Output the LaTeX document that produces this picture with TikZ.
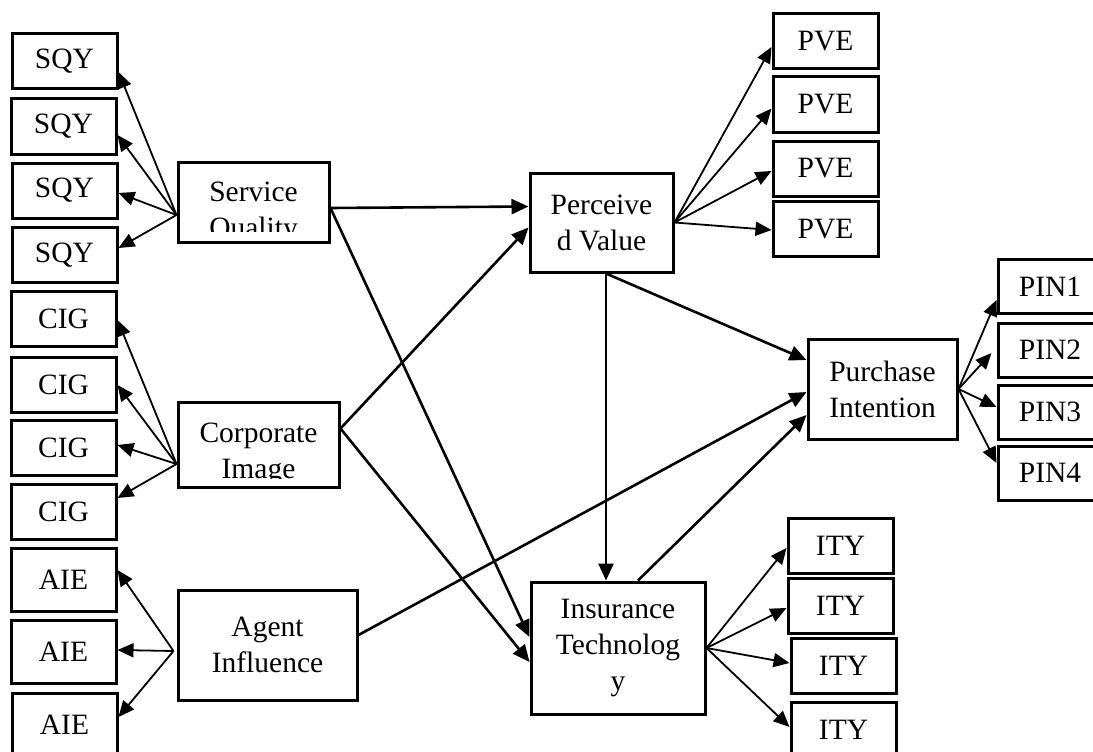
\documentclass[tikz,border=0pt]{standalone}
\usepackage{fontspec}
\setmainfont{Liberation Serif}
\usetikzlibrary{arrows.meta,calc}

\begin{document}
\begin{tikzpicture}[
    x=1pt, y=-1pt,
    indicator/.style={rectangle, draw=black, line width=3pt, minimum width=105pt, minimum height=55pt, inner sep=0pt, font=\fontsize{29.5}{36}\selectfont},
    construct/.style={rectangle, draw=black, line width=3pt, inner sep=0pt, align=center, font=\fontsize{29.5}{36}\selectfont},
    arrow/.style={-{Triangle[length=17pt,width=15pt]}, line width=2.6pt},
    fan/.style={-{Triangle[length=16pt,width=14pt]}, line width=1.8pt}
]
\useasboundingbox (0,0) rectangle (1093,752);

% indicators on the left
\node[indicator] (q1) at (64.5,61.5) {SQY};
\node[indicator] (q2) at (63.5,126.5) {SQY};
\node[indicator] (q3) at (64.5,190.5) {SQY};
\node[indicator] (q4) at (64.5,255) {SQY};
\node[indicator] (c1) at (63.5,318.5) {CIG};
\node[indicator] (c2) at (63.5,384.5) {CIG};
\node[indicator] (c3) at (63.5,447.5) {CIG};
\node[indicator] (c4) at (63.5,511.5) {CIG};
\node[indicator, minimum height=63pt] (a1) at (63.5,580) {AIE};
\node[indicator, minimum height=63pt] (a2) at (63.5,651.5) {AIE};
\node[indicator, minimum height=63pt] (a3) at (64.5,724.5) {AIE};

% constructs
\node[construct, minimum width=151pt, minimum height=80pt] (sq) at (253.5,202) {};
\begin{scope}
  \clip (sq.north west) rectangle ($(sq.south east)+(0,-12)$);
  \node[construct, draw=none, anchor=north] (sqtext) at ($(sq.north)+(0,20)$) {Service\\Quality};
\end{scope}
\node[construct, minimum width=161pt, minimum height=85pt] (ci) at (258.5,444.5) {};
\begin{scope}
  \clip (ci.north west) rectangle ($(ci.south east)+(0,-10)$);
  \node[construct, draw=none, anchor=north] (citext) at ($(ci.north)+(0,21)$) {Corporate\\Image};
\end{scope}
\node[construct, minimum width=179pt, minimum height=110pt] (ai) at (267.5,645) {Agent\\Influence};
\node[construct, minimum width=143pt, minimum height=99pt] (pv) at (601.5,222.5) {Perceive\\d Value};
\node[construct, minimum width=149pt, minimum height=100pt] (pi) at (882.5,389) {Purchase\\Intention};
\node[construct, minimum width=174pt, minimum height=132pt] (it) at (618,648) {Insurance\\Technolog\\y};

% indicators on the right
\node[indicator] (v1) at (825.5,41) {PVE};
\node[indicator] (v2) at (825.5,104.5) {PVE};
\node[indicator] (v3) at (825.5,168.5) {PVE};
\node[indicator] (v4) at (825.5,229) {PVE};
\node[indicator, minimum width=104pt, minimum height=54pt] (p1) at (1050,286.5) {PIN1};
\node[indicator, minimum width=104pt, minimum height=54pt] (p2) at (1050,350) {PIN2};
\node[indicator, minimum width=104pt, minimum height=54pt] (p3) at (1050,412) {PIN3};
\node[indicator, minimum width=104pt, minimum height=54pt] (p4) at (1050,473) {PIN4};
\node[indicator] (t1) at (840.5,545.5) {ITY};
\node[indicator] (t2) at (840.5,605.5) {ITY};
\node[indicator] (t3) at (843.5,665.5) {ITY};
\node[indicator] (t4) at (843.5,729.5) {ITY};

% paths between constructs
\draw[arrow] ($(sq.east)+(0,6)$) -- ($(pv.west)+(0,-16)$);
\draw[arrow] ($(sq.east)+(0,6)$) -- ($(it.west)+(0,-11)$);
\draw[arrow] ($(ci.east)+(0,-16)$) -- ($(pv.west)+(0,5)$);
\draw[arrow] ($(ci.east)+(0,-16)$) -- ($(it.west)+(0,14)$);
\draw[arrow] ($(ai.east)+(0,-10)$) -- ($(pi.west)+(0,3)$);
\draw[arrow] ($(pv.south)+(4.5,0)$) -- ($(it.north)+(-12,0)$);
\draw[arrow] ($(pv.south)+(4.5,0)$) -- ($(pi.west)+(0,-29)$);
\draw[arrow] ($(it.north)+(20,0)$) -- ($(pi.west)+(0,26)$);

% loadings
\draw[fan] ($(sq.west)+(0,13)$) -- ($(q1.east)+(0,10.5)$);
\draw[fan] ($(sq.west)+(0,13)$) -- ($(q2.east)+(0,8.5)$);
\draw[fan] ($(sq.west)+(0,13)$) -- ($(q3.east)+(0,2.5)$);
\draw[fan] ($(sq.west)+(0,13)$) -- ($(q4.east)+(0,-7)$);
\draw[fan] ($(ci.west)+(0,19.5)$) -- ($(c1.east)+(0,1.5)$);
\draw[fan] ($(ci.west)+(0,19.5)$) -- ($(c2.east)+(0,0.5)$);
\draw[fan] ($(ci.west)+(0,19.5)$) -- ($(c3.east)+(0,-2.5)$);
\draw[fan] ($(ci.west)+(0,19.5)$) -- ($(c4.east)+(0,-13.5)$);
\draw[fan] ($(ai.west)+(-3,6)$) -- ($(a1.east)+(0,-10)$);
\draw[fan] ($(ai.west)+(-3,6)$) -- ($(a2.east)+(0,-1.5)$);
\draw[fan] ($(ai.west)+(-3,6)$) -- ($(a3.east)+(0,-7.5)$);
\draw[fan] (pv.east) -- ($(v1.west)+(0,6)$);
\draw[fan] (pv.east) -- ($(v2.west)+(0,4)$);
\draw[fan] (pv.east) -- ($(v3.west)+(0,2.5)$);
\draw[fan] (pv.east) -- ($(v4.west)+(0,1)$);
\draw[fan] (pi.east) -- ($(p1.west)+(0,13.5)$);
\draw[fan] (pi.east) -- ($(p2.west)+(-5,3)$);
\draw[fan] (pi.east) -- ($(p3.west)+(0,-5)$);
\draw[fan] (pi.east) -- ($(p4.west)+(0,-10)$);
\draw[fan] (it.east) -- ($(t1.west)+(0,2.5)$);
\draw[fan] (it.east) -- ($(t2.west)+(0,2.5)$);
\draw[fan] (it.east) -- ($(t3.west)+(0,-2.5)$);
\draw[fan] (it.east) -- ($(t4.west)+(0,-2.5)$);

\end{tikzpicture}
\end{document}
